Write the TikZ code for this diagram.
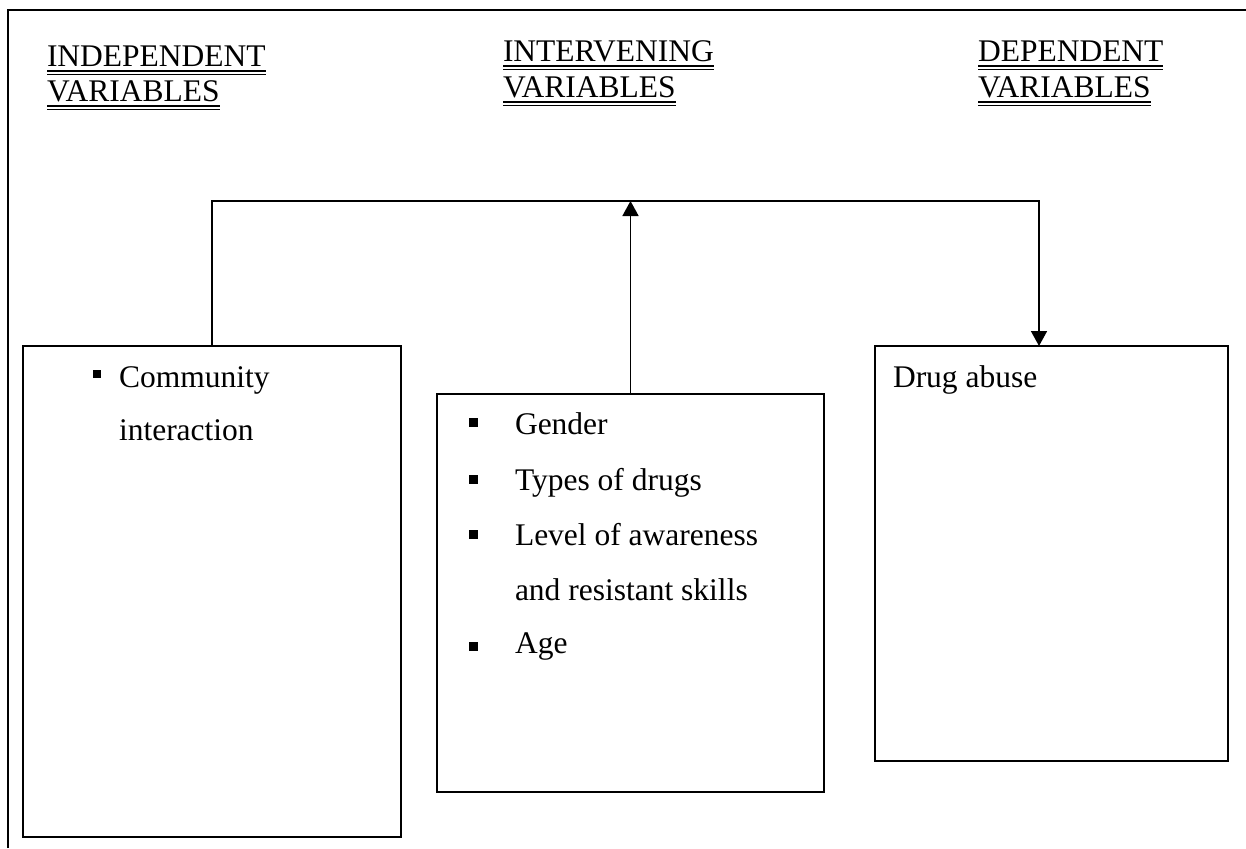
\documentclass[tikz,border=0pt]{standalone}
\usepackage{fontspec}
\setmainfont{Liberation Serif}
\usetikzlibrary{arrows.meta}
\begin{document}
\begin{tikzpicture}[x=1pt,y=1pt,
  txt/.style={inner sep=0pt,outer sep=0pt,anchor=base west,font=\fontsize{31.5}{36}\selectfont},
  boxnode/.style={draw,line width=1.5pt,inner sep=0pt,outer sep=0pt,rectangle},
  bul/.style={fill=black,inner sep=0pt,outer sep=0pt,rectangle,minimum size=#1},
  conn/.style={line width=1.7pt},
  tip/.style={conn,-{Triangle[width=16pt,length=15pt]}},
  uline/.style={line width=1.1pt}]
\useasboundingbox (0,0) rectangle (1246,-848);
% outer frame (visible part)
\draw[line width=2pt] (8,-848) -- (8,-10) -- (1246,-10);
% headings
\node[txt] (h1a) at (47,-67) {INDEPENDENT};
\node[txt] (h1b) at (47,-102) {VARIABLES};
\node[txt] (h2a) at (503,-62) {INTERVENING};
\node[txt] (h2b) at (503,-98) {VARIABLES};
\node[txt] (h3a) at (978,-62) {DEPENDENT};
\node[txt] (h3b) at (978,-98) {VARIABLES};
\foreach \n in {h1a,h1b,h2a,h2b,h3a,h3b}{
  \draw[uline] ([yshift=-4pt]\n.base west) -- ([yshift=-4pt]\n.base east);
  \draw[uline] ([yshift=-7.5pt]\n.base west) -- ([yshift=-7.5pt]\n.base east);
}
% boxes
\node[boxnode,minimum width=378pt,minimum height=491pt] (lbox) at (212,-591.5) {};
\node[boxnode,minimum width=387pt,minimum height=398pt] (mbox) at (630.5,-593) {};
\node[boxnode,minimum width=353pt,minimum height=415pt] (rbox) at (1051.5,-553.5) {};
% left box text
\node[bul=8pt] (lb1) at (96.5,-373.5) {};
\node[txt] (lt1) at (119,-387) {Community};
\node[txt] (lt2) at (119,-440) {interaction};
% middle box text
\node[bul=9pt] (mb1) at (473.5,-422.5) {};
\node[txt] (mt1) at (515,-434) {Gender};
\node[bul=9pt] (mb2) at (473.5,-479) {};
\node[txt] (mt2) at (515,-490) {Types of drugs};
\node[bul=9pt] (mb3) at (473.5,-534) {};
\node[txt] (mt3) at (515,-545) {Level of awareness};
\node[txt] (mt4) at (515,-600) {and resistant skills};
\node[bul=9pt] (mb4) at (473.5,-646) {};
\node[txt] (mt5) at (515,-653) {Age};
% right box text
\node[txt] (rt1) at (893,-387) {Drug abuse};
% connectors
\coordinate (bus) at (631,-201);
\coordinate (rin) at (1039,-346);
\draw[tip] (lbox.north) |- (bus) -| (rin);
\draw[tip] (mbox.north) -- (mbox.north |- bus);
\end{tikzpicture}
\end{document}
